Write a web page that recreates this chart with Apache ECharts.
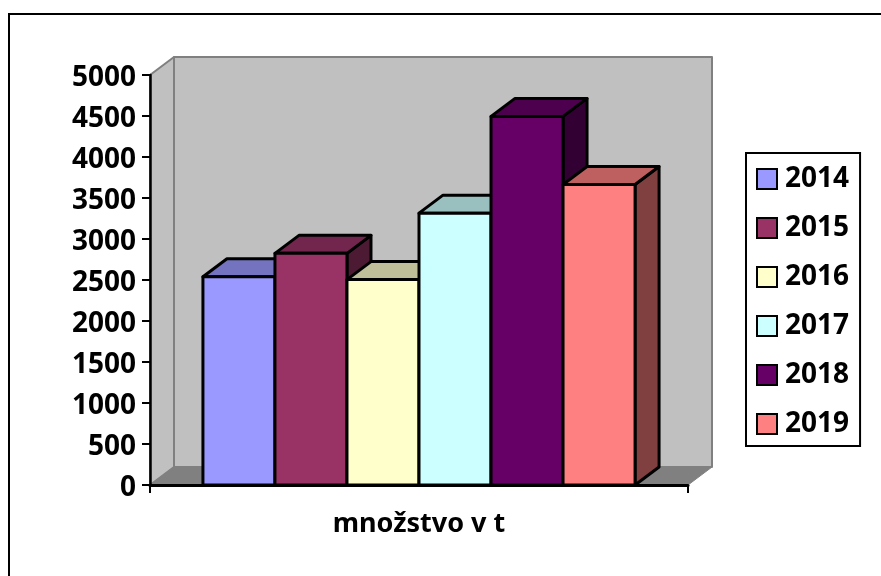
<!DOCTYPE html>
<html>
<head>
<meta charset="utf-8">
<script src="https://cdn.jsdelivr.net/npm/echarts@6/dist/echarts.min.js"></script>
<style>
  html, body { margin: 0; padding: 0; background: #fff; }
  #root { width: 881px; height: 576px; }
</style>
</head>
<body>
<div id="root"></div>
<script>
const categories = ['množstvo v t']
const years = ['2014', '2015', '2016', '2017', '2018', '2019']
const amounts = [2540, 2825, 2505, 3315, 4495, 3665]
const yMax = 5000
const yStep = 500

const colors = ['#9999FF', '#993366', '#FFFFCC', '#CCFFFF', '#660066', '#FF8080']
const font = '"Noto Sans", sans-serif'

// depth of the fake 3D box, in pixels
const depthX = 24
const depthY = -18
const gapWidth = 1.47

// darken a hex colour, used for the top and side faces
function shade (hex, k) {
  const n = parseInt(hex.slice(1), 16)
  const c = [(n >> 16) & 255, (n >> 8) & 255, n & 255].map(v => Math.round(v * k))
  return 'rgb(' + c.join(',') + ')'
}

function face (points, fill, stroke, width) {
  return {
    type: 'polygon',
    shape: { points: points },
    style: { fill: fill, stroke: stroke, lineWidth: width, lineJoin: 'round' }
  }
}

// back wall, left wall and floor
function renderWalls (params) {
  const box = params.coordSys
  const l = box.x
  const r = box.x + box.width
  const t = box.y
  const b = box.y + box.height
  const grey = '#808080'
  return {
    type: 'group',
    children: [
      face([[l + depthX, t + depthY], [r + depthX, t + depthY], [r + depthX, b + depthY], [l + depthX, b + depthY]], '#C0C0C0', grey, 2),
      face([[l, t], [l + depthX, t + depthY], [l + depthX, b + depthY], [l, b]], '#C0C0C0', grey, 2),
      face([[l, b], [l + depthX, b + depthY], [r + depthX, b + depthY], [r, b]], grey, grey, 1)
    ]
  }
}

// one box per year, placed inside the category band
function renderBox (index) {
  return function (params, api) {
    const band = api.size([1, 0])[0]
    const barW = band / (years.length + gapWidth)
    const center = api.coord([api.value(0), 0])[0]
    const x0 = center - band / 2 + (gapWidth / 2 + index) * barW
    const x1 = x0 + barW
    const y0 = api.coord([api.value(0), 0])[1]
    const y1 = api.coord([api.value(0), api.value(1)])[1]
    const color = colors[index]
    return {
      type: 'group',
      children: [
        face([[x1, y0], [x1 + depthX, y0 + depthY], [x1 + depthX, y1 + depthY], [x1, y1]], shade(color, 0.5), '#000', 3),
        face([[x0, y1], [x0 + depthX, y1 + depthY], [x1 + depthX, y1 + depthY], [x1, y1]], shade(color, 0.75), '#000', 3),
        face([[x0, y0], [x1, y0], [x1, y1], [x0, y1]], color, '#000', 3)
      ]
    }
  }
}

const series = [{
  type: 'custom',
  name: 'walls',
  z: 0,
  silent: true,
  renderItem: renderWalls,
  data: [[categories[0], 0]]
}]

years.forEach((year, i) => {
  series.push({
    type: 'custom',
    name: year,
    z: 3,
    itemStyle: { color: colors[i] },
    renderItem: renderBox(i),
    data: [[categories[0], amounts[i]]]
  })
})

const chart = echarts.init(document.getElementById('root'), null, { renderer: 'canvas' })

chart.setOption({
  animation: false,
  backgroundColor: '#fff',
  graphic: [{
    type: 'rect',
    shape: { x: 9, y: 14, width: 900, height: 600 },
    style: { fill: 'none', stroke: '#000', lineWidth: 2 },
    silent: true
  }],
  grid: { left: 150, right: 193, top: 75, bottom: 91 },
  legend: {
    orient: 'vertical',
    left: 746,
    top: 153,
    padding: [12, 11, 8, 10],
    itemGap: 21,
    itemWidth: 20,
    itemHeight: 20,
    borderColor: '#000',
    borderWidth: 2,
    backgroundColor: '#fff',
    selectedMode: false,
    textStyle: { fontFamily: font, fontWeight: 'bold', fontSize: 28, color: '#000', padding: [2, 0, 0, 3] },
    data: years.map((year, i) => ({
      name: year,
      icon: 'rect',
      itemStyle: { color: colors[i], borderColor: '#000', borderWidth: 2 }
    }))
  },
  xAxis: {
    type: 'category',
    data: categories,
    z: 1,
    axisLine: { lineStyle: { color: '#000', width: 3 } },
    axisTick: { show: true, length: 8, lineStyle: { color: '#000', width: 2 } },
    axisLabel: { fontFamily: font, fontWeight: 'bold', fontSize: 27, color: '#000', margin: 26 },
    splitLine: { show: false }
  },
  yAxis: {
    type: 'value',
    min: 0,
    max: yMax,
    interval: yStep,
    z: 1,
    axisLine: { show: true, lineStyle: { color: '#000', width: 2.5 } },
    axisTick: { show: true, length: 8, lineStyle: { color: '#000', width: 2 } },
    axisLabel: {
      margin: 14,
      formatter: v => '{tick|' + v + '}',
      rich: { tick: { fontFamily: font, fontWeight: 'bold', fontSize: 28, color: '#000', padding: [6, 0, 0, 0] } }
    },
    splitLine: { show: false }
  },
  series: series
})
</script>
</body>
</html>
